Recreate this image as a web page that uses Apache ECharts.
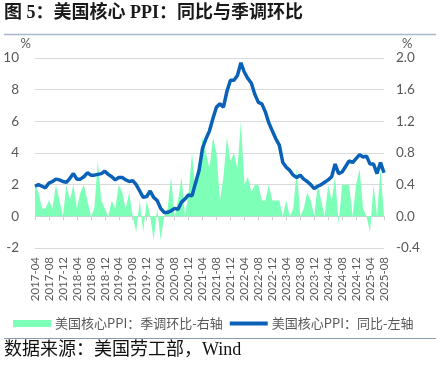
<!DOCTYPE html>
<html>
<head>
<meta charset="utf-8">
<script src="https://cdn.jsdelivr.net/npm/echarts@6/dist/echarts.min.js"></script>
<style>
html,body{margin:0;padding:0;background:#fff;}
#c{width:440px;height:365px;}
</style>
</head>
<body>
<div id="c"></div>
<script>
// ---- data ----
const startYear = 2017, startMonth = 4, nMonths = 101;
const categories = [];
for (let k = 0; k < nMonths; k++) {
  const m = startMonth - 1 + k;
  const y = startYear + Math.floor(m / 12);
  const mm = (m % 12) + 1;
  categories.push(y + '-' + (mm < 10 ? '0' + mm : '' + mm));
}
// 美国核心PPI：同比 (%), left axis
const yoyValues = [
  1.9, 2.0, 1.9, 1.8, 2.1, 2.2, 2.35, 2.3, 2.2,
  2.15, 2.4, 2.7, 2.35, 2.35, 2.5, 2.75, 2.6, 2.6, 2.65, 2.7, 2.85,
  2.65, 2.5, 2.3, 2.45, 2.45, 2.3, 2.2, 2.25, 2.0, 1.6, 1.2, 1.25,
  1.6, 1.2, 1.0, 0.5, 0.25, 0.25, 0.35, 0.5, 0.45, 0.9, 1.1, 1.35,
  1.3, 2.1, 2.9, 4.3, 4.9, 5.4, 6.2, 6.9, 7.1, 6.9, 7.9, 8.6,
  8.6, 8.9, 9.7, 9.1, 8.7, 8.4, 7.7, 7.2, 7.1, 6.6, 5.9, 5.4,
  4.9, 4.5, 3.4, 3.1, 2.9, 2.6, 2.45, 2.6, 2.35, 2.2, 2.0, 1.75,
  1.9, 2.0, 2.15, 2.3, 2.5, 3.3, 2.7, 2.8, 3.15, 3.5, 3.4, 3.65,
  3.9, 3.75, 3.8, 3.3, 3.3, 2.7, 3.4, 2.75
];
// 美国核心PPI：季调环比 (%), right axis
const momValues = [
  0.4, 0.3, 0.1, 0.1, 0.2, 0.1, 0.4, 0.2, 0.0,
  0.4, 0.2, 0.4, 0.1, 0.3, 0.4, 0.2, 0.0, 0.1, 0.7, 0.2, 0.1,
  0.0, 0.2, 0.1, 0.4, 0.3, 0.1, 0.3, 0.0, -0.2, 0.2, -0.2, 0.2,
  0.0, -0.3, 0.1, -0.3, 0.0, 0.1, 0.5, 0.0, 0.2, 0.5, 0.0, 0.3,
  0.8, 0.3, 0.6, 1.0, 0.8, 0.6, 1.0, 0.8, 0.2, 0.5, 1.0, 0.7,
  0.8, 0.6, 1.2, 0.4, 0.5, 0.3, 0.4, 0.4, 0.2, 0.2, 0.4, 0.2,
  0.2, 0.2, 0.0, 0.2, 0.0, 0.1, 0.6, 0.0, 0.1, 0.3, 0.2, 0.0,
  0.4, 0.2, 0.0, 0.4, 0.2, 0.5, -0.1, 0.4, 0.4, 0.4, 0.0, 0.4,
  0.6, 0.1, 0.0, -0.2, 0.4, 0.0, 0.6, 0.0
];
const leftTicks = { min: -2, max: 10, interval: 2 };
const rightTicks = { min: -0.4, max: 2.0, interval: 0.4 };
const seriesNames = ['美国核心PPI：季调环比-右轴', '美国核心PPI：同比-左轴'];
const titleText = '图 5：美国核心 PPI：同比与季调环比';
const sourceText = '数据来源：美国劳工部，Wind';

// ---- chart ----
const chart = echarts.init(document.getElementById('c'), null, { renderer: 'canvas' });
const gray = '#595959';
const numFont = 'Lato';
const cjk = '"Noto Sans CJK SC", sans-serif';
const green = '#7dffb8';
const blue = '#0a62b8';

chart.setOption({
  animation: false,
  backgroundColor: '#fff',
  grid: { left: 35, right: 56, top: 58, bottom: 117, containLabel: false },
  graphic: [
    { type: 'text', left: 4, top: 4, style: { text: titleText, font: 'bold 18px "Liberation Serif", "Noto Sans CJK SC", serif', fill: '#1a1a1a' } },
    { type: 'line', shape: { x1: 4, y1: 34.5, x2: 436, y2: 34.5 }, style: { stroke: '#a9b8cb', lineWidth: 1.5 } },
    { type: 'line', shape: { x1: 4, y1: 338.5, x2: 436, y2: 338.5 }, style: { stroke: '#8d9cad', lineWidth: 1.2 } },
    { type: 'text', left: 4, top: 341, style: { text: sourceText, font: '18px "Liberation Serif", "Noto Sans CJK SC", serif', fill: '#111' } }
  ],
  legend: {
    left: 8, top: 312,
    itemWidth: 38, itemHeight: 7, itemGap: 7,
    textStyle: { color: gray, fontSize: 13, fontFamily: cjk, padding: [0, 0, 0, -1] },
    data: [
      { name: seriesNames[0], icon: 'rect', itemStyle: { color: green } },
      { name: seriesNames[1], icon: 'path://M0,0L100,0L100,10L0,10Z', itemStyle: { color: blue } }
    ]
  },
  xAxis: [
    {
      type: 'category', data: categories, boundaryGap: false, position: 'bottom',
      axisLine: { show: false, onZero: false },
      axisTick: { show: false },
      splitLine: { show: false },
      axisLabel: { interval: 3, rotate: 90, color: gray, fontSize: 11.5, fontFamily: numFont, margin: 9 }
    },
    {
      type: 'category', data: categories, boundaryGap: false, position: 'bottom',
      axisLine: { show: true, onZero: true, lineStyle: { color: '#d0d0d0', width: 1 } },
      axisTick: { show: true, interval: 3, length: 4, lineStyle: { color: '#d0d0d0' } },
      axisLabel: { show: false },
      splitLine: { show: false }
    }
  ],
  yAxis: [
    {
      type: 'value', min: leftTicks.min, max: leftTicks.max, interval: leftTicks.interval,
      name: '%', nameGap: 8, nameTextStyle: { color: gray, fontSize: 13, fontFamily: numFont, align: 'right', padding: [0, 4, 0, 0] },
      axisLine: { show: false }, axisTick: { show: false },
      axisLabel: { color: gray, fontSize: 13.5, fontFamily: numFont, margin: 16 },
      splitLine: { lineStyle: { color: '#d9d9d9', width: 1 } }
    },
    {
      type: 'value', min: rightTicks.min, max: rightTicks.max, interval: rightTicks.interval,
      name: '%', nameGap: 8, nameTextStyle: { color: gray, fontSize: 13, fontFamily: numFont, align: 'left', padding: [0, 0, 0, 18] },
      axisLine: { show: false }, axisTick: { show: false },
      axisLabel: { color: gray, fontSize: 13.5, fontFamily: numFont, margin: 12, formatter: v => v.toFixed(1) },
      splitLine: { show: false }
    }
  ],
  series: [
    {
      name: seriesNames[0], type: 'line', xAxisIndex: 0, yAxisIndex: 1, data: momValues,
      symbol: 'none', lineStyle: { width: 0, color: green }, itemStyle: { color: green },
      areaStyle: { color: green, opacity: 1, origin: 0 }, z: 2
    },
    {
      name: seriesNames[1], type: 'line', xAxisIndex: 0, yAxisIndex: 0, data: yoyValues,
      symbol: 'none', lineStyle: { width: 3.5, color: blue }, itemStyle: { color: blue }, z: 3
    }
  ]
});
</script>
</body>
</html>
